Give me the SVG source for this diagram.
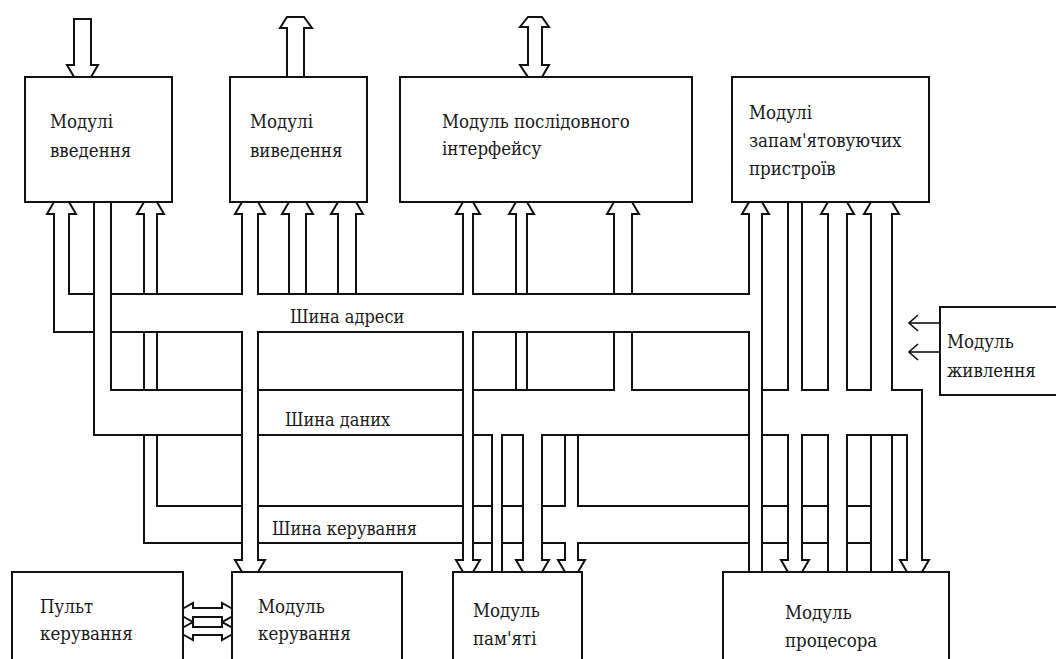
<svg xmlns="http://www.w3.org/2000/svg" width="1056" height="659" viewBox="0 0 1056 659">
<defs>
<style>
.ln{fill:none;stroke:#111;stroke-width:2;stroke-linecap:square;stroke-linejoin:miter}
.box{fill:#fff;stroke:#111;stroke-width:2}
.t{font-family:'DejaVu Serif',serif;font-stretch:condensed;font-size:18.5px;fill:#1a1a1a}
.bt{font-family:'DejaVu Serif',serif;font-stretch:condensed;font-size:18px;fill:#1a1a1a}
.thin{fill:none;stroke:#111;stroke-width:1.6}
</style>
<marker id="open" viewBox="0 0 12 20" refX="11" refY="10" markerWidth="12" markerHeight="20" markerUnits="userSpaceOnUse" orient="auto">
<path d="M2 2L11 10L2 18" fill="none" stroke="#111" stroke-width="1.6"/>
</marker>
</defs>
<rect width="1056" height="659" fill="#fff"/>

<g id="bus-address">
<path class="ln" d="M69 294H94M111 294H242M258 294H463M473 294H749M54 332H94M111 332H242M258 332H463M473 332H749"/>
<text class="bt" x="290" y="323">Шина адреси</text>
</g>

<g id="bus-data">
<path class="ln" d="M111 390H242M258 390H463M473 390H614M632 390H749M762 390H788M802 390H828M847 390H871M892 390H922M94 435H242M258 435H463M473 435H492M502 435H523M542 435H749M762 435H788M802 435H828M847 435H907"/>
<text class="bt" x="285" y="426">Шина даних</text>
</g>

<g id="bus-control">
<path class="ln" d="M157 506H242M258 506H463M473 506H492M502 506H523M542 506H565M578 506H749M762 506H788M802 506H828M847 506H871M144 543H242M258 543H463M473 543H492M502 543H523M542 543H565M578 543H749M762 543H788M802 543H828M847 543H871"/>
<text class="bt" x="272" y="535">Шина керування</text>
</g>

<g id="connectors">
<path class="ln" d="M54 214V332M69 214V294M94 202V435M111 202V390M144 214V294M144 332V390M144 435V543M157 214V294M157 332V390M157 435V506
M242 214V294M242 332V560M258 214V294M258 332V560M289 214V294M306 214V294M338 214V294M356 214V294
M463 214V294M463 332V560M473 214V294M473 332V560M516 214V294M516 332V390M527 214V294M527 332V390M614 214V294M614 332V390M632 214V294M632 332V390
M749 214V294M749 332V572M762 214V572M788 202V390M788 435V560M802 202V390M802 435V560M828 214V390M828 435V572M847 214V390M847 435V572M871 214V390M871 435V572M892 214V390M892 435V572M907 435V560M922 390V560
M492 435V572M502 435V572M523 435V560M542 435V560M565 435V506M565 543V560M578 435V506M578 543V560"/>
<path class="ln" d="M54 214H47L54 202M69 214H76L69 202M144 214H137L144 202M157 214H164L157 202M242 214H235L242 202M258 214H265L258 202M289 214H282L289 202M306 214H313L306 202M338 214H331L338 202M356 214H363L356 202M463 214H456L463 202M473 214H480L473 202M516 214H509L516 202M527 214H534L527 202M614 214H607L614 202M632 214H639L632 202M749 214H742L749 202M762 214H769L762 202M828 214H821L828 202M847 214H854L847 202M871 214H864L871 202M892 214H899L892 202"/>
<path class="ln" d="M242 560H235L242 572M258 560H265L258 572M463 560H456L463 572M473 560H480L473 572M523 560H516L523 572M542 560H549L542 572M565 560H558L565 572M578 560H585L578 572M788 560H781L788 572M802 560H809L802 572M907 560H900L907 572M922 560H929L922 572"/>
<path class="ln" d="M74 65V19H91V65H98L91 77M74 65H67L74 77"/>
<path class="ln" d="M287 77V28H280L287 17H304L312 28H304V77"/>
<path class="ln" d="M528 65V27H520L528 17H542L549 27H542V65H549L542 77M528 65H520L528 77"/>
<path class="thin" d="M940 323H909" marker-end="url(#open)"/>
<path class="thin" d="M940 352H909" marker-end="url(#open)"/>
<path class="ln" d="M193 608H222M193 617H222M193 608V603L184 608M193 617V622L184 617M222 608V603L231 608M222 617V622L231 617"/>
<path class="ln" d="M193 627H222M193 635H222M193 627V622M193 635V640L184 635M184 627L193 622M222 627V622M222 635V640L231 635M231 627L222 622"/>
</g>

<g id="node-input">
<rect class="box" x="25" y="77" width="147" height="125"/>
<text class="t" x="50" y="128">Модулі</text>
<text class="t" x="50" y="157">введення</text>
</g>
<g id="node-output">
<rect class="box" x="230" y="77" width="137" height="125"/>
<text class="t" x="250" y="128">Модулі</text>
<text class="t" x="250" y="157">виведення</text>
</g>
<g id="node-serial">
<rect class="box" x="400" y="77" width="292" height="125"/>
<text class="t" x="442" y="128">Модуль послідовного</text>
<text class="t" x="442" y="155">інтерфейсу</text>
</g>
<g id="node-storage">
<rect class="box" x="732" y="77" width="197" height="125"/>
<text class="t" x="749" y="119">Модулі</text>
<text class="t" x="749" y="147">запам'ятовуючих</text>
<text class="t" x="749" y="175">пристроїв</text>
</g>
<g id="node-power">
<rect class="box" x="940" y="307" width="130" height="88"/>
<text class="t" x="947" y="348">Модуль</text>
<text class="t" x="947" y="377">живлення</text>
</g>
<g id="node-console">
<rect class="box" x="12" y="572" width="171" height="100"/>
<text class="t" x="40" y="613">Пульт</text>
<text class="t" x="40" y="640">керування</text>
</g>
<g id="node-control">
<rect class="box" x="232" y="572" width="170" height="100"/>
<text class="t" x="258" y="613">Модуль</text>
<text class="t" x="258" y="640">керування</text>
</g>
<g id="node-memory">
<rect class="box" x="453" y="572" width="129" height="100"/>
<text class="t" x="473" y="617">Модуль</text>
<text class="t" x="473" y="645">пам'яті</text>
</g>
<g id="node-cpu">
<rect class="box" x="723" y="572" width="226" height="100"/>
<text class="t" x="785" y="619">Модуль</text>
<text class="t" x="785" y="647">процесора</text>
</g>
</svg>
